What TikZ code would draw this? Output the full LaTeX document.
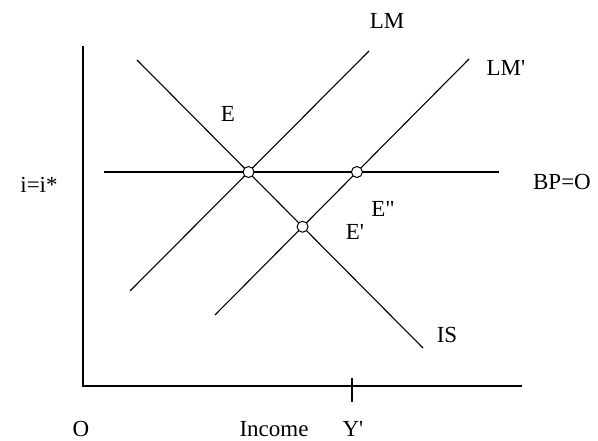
\documentclass[tikz,border=0pt]{standalone}
\usepackage{fontspec}
\setmainfont{Liberation Serif}
\begin{document}
\begin{tikzpicture}[x=1pt,y=-1pt,
  curve/.style={line width=1.1pt},
  axis/.style={line width=1.6pt},
  eqpt/.style={circle,draw,fill=white,line width=1pt,minimum size=11pt,inner sep=0pt},
  lbl/.style={font=\fontsize{23}{26}\selectfont,anchor=base,inner sep=0pt}]
\useasboundingbox (0,0) rectangle (598,441);
% axes
\coordinate (top) at (83,46);
\coordinate (orig) at (83,386);
\coordinate (xend) at (522,386);
\draw[axis] (top) -- (orig) -- (xend);
\coordinate (tickT) at (352,378);
\coordinate (tickB) at (352,402);
\draw[axis] (tickT) -- (tickB);
% curves
\coordinate (bpA) at (104,172);
\coordinate (bpB) at (499,172);
\coordinate (isA) at (137,60);
\coordinate (isB) at (423,348);
\coordinate (lmA) at (130,291);
\coordinate (lmB) at (369,51);
\coordinate (lmpA) at (215,315);
\coordinate (lmpB) at (469,59);
\draw[curve] (bpA) -- (bpB);
\draw[curve] (isA) -- (isB);
\draw[curve] (lmA) -- (lmB);
\draw[curve] (lmpA) -- (lmpB);
% equilibria
\node[eqpt] (E) at (intersection of bpA--bpB and lmA--lmB) {};
\node[eqpt] (Epp) at (intersection of bpA--bpB and lmpA--lmpB) {};
\node[eqpt] (Ep) at (intersection of isA--isB and lmpA--lmpB) {};
% labels
\node[lbl] (tLM) at (387,29) {LM};
\node[lbl] (tLMp) at (506,76) {LM\textquotesingle};
\node[lbl] (tBP) at (562,190) {BP=O};
\node[lbl] (tE) at (228,122) {E};
\node[lbl] (tEpp) at (383,217) {E\textquotedbl};
\node[lbl] (tEp) at (355,240) {E\textquotesingle};
\node[lbl] (tIS) at (447,342) {IS};
\node[lbl] (tI) at (39,193) {i=i*};
\node[lbl] (tO) at (81,436) {O};
\node[lbl] (tInc) at (274,436) {Income};
\node[lbl] (tY) at (353,436) {Y\textquotesingle};
\end{tikzpicture}
\end{document}
